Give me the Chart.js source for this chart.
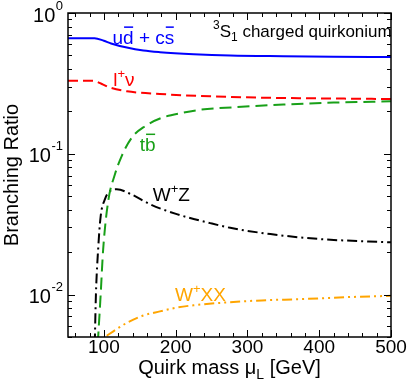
<!DOCTYPE html>
<html>
<head>
<meta charset="utf-8">
<script src="https://cdn.jsdelivr.net/npm/chart.js@4"></script>
<style>
  html, body { margin: 0; padding: 0; background: #fff; }
</style>
</head>
<body>
<canvas id="grafico" width="409" height="387"></canvas>
<script>
// masses in GeV, branching ratios
const massUd = [50, 87, 100, 110, 132, 155, 178, 225, 276, 350, 420, 500];
const brUd = [0.662, 0.662, 0.635, 0.608, 0.568, 0.541, 0.527, 0.510, 0.499, 0.493, 0.489, 0.486];

const massLnu = [50, 85, 99, 108, 132, 178, 248, 330, 420, 500];
const brLnu = [0.330, 0.330, 0.310, 0.296, 0.278, 0.266, 0.256, 0.250, 0.247, 0.245];

const massTb = [91.5, 95.5, 99, 106, 115.4, 124.8, 138.7, 157.3, 180.5, 208.4, 236.3, 280, 350, 420, 500];
const brTb = [0.0045, 0.010, 0.021, 0.046, 0.0715, 0.0964, 0.130, 0.157, 0.180, 0.195, 0.206, 0.214, 0.224, 0.231, 0.236];

const massWZ = [87.3, 88.9, 92, 95.5, 101.5, 108.6, 117.8, 140, 164, 201.5, 248, 276, 332, 401, 500];
const brWZ = [0.0045, 0.010, 0.021, 0.036, 0.0476, 0.0545, 0.056, 0.051, 0.0439, 0.0373, 0.0322, 0.0298, 0.0269, 0.0248, 0.0235];

const massWXX = [104, 118, 132, 155, 178, 202, 225, 271, 320, 378, 440, 500];
const brWXX = [0.0051, 0.0057, 0.0063, 0.0071, 0.0076, 0.0081, 0.0084, 0.0088, 0.0091, 0.0093, 0.0096, 0.0098];

const yTickValues = [1, 0.1, 0.01];
const yTickExponents = ['0', '-1', '-2'];

const FONT = '"Liberation Sans", Arial, Helvetica, sans-serif';

function puntos(xs, ys) {
    return xs.map((m, i) => ({ x: m, y: ys[i] }));
}

function serie(label, xs, ys, color, dash) {
    return {
        label: label,
        data: puntos(xs, ys),
        borderColor: color,
        borderWidth: 2,
        borderDash: dash,
        pointRadius: 0,
        fill: false,
        cubicInterpolationMode: 'monotone',
        clip: 0
    };
}

// draws a line of text made of parts: plain, superscript, subscript, overbar
function textoRico(ctx, x, y, parts, size, color) {
    ctx.fillStyle = color;
    ctx.strokeStyle = color;
    ctx.textBaseline = 'alphabetic';
    ctx.textAlign = 'left';
    let cx = x;
    parts.forEach(p => {
        let fs = size, dy = 0;
        if (p.sup) { fs = Math.round(size * 0.68); dy = -size * 0.42; }
        if (p.sub) { fs = Math.round(size * 0.68); dy = size * 0.25; }
        ctx.font = fs + 'px ' + FONT;
        ctx.fillText(p.t, cx, y + dy);
        const w = ctx.measureText(p.t).width;
        if (p.bar) {
            ctx.lineWidth = 1.5;
            ctx.beginPath();
            ctx.moveTo(cx + 1, y - size * 0.9);
            ctx.lineTo(cx + w - 0.5, y - size * 0.9);
            ctx.stroke();
        }
        cx += w;
    });
    return cx - x;
}

function anchoRico(ctx, parts, size) {
    let w = 0;
    parts.forEach(p => {
        const fs = (p.sup || p.sub) ? Math.round(size * 0.68) : size;
        ctx.font = fs + 'px ' + FONT;
        w += ctx.measureText(p.t).width;
    });
    return w;
}

// curve labels, anchored in data coordinates (mass, ratio) at the text baseline-left
const notas = [
    { at: [112, 0.60], color: '#0000ff', size: 19, parts: [{ t: 'u' }, { t: 'd', bar: true }, { t: ' + c' }, { t: 's', bar: true }] },
    { at: [113, 0.301], color: '#ff0000', size: 19, parts: [{ t: 'l' }, { t: '+', sup: true }, { t: 'ν' }] },
    { at: [150, 0.104], color: '#18a018', size: 19, parts: [{ t: 't' }, { t: 'b', bar: true }] },
    { at: [168, 0.0465], color: '#000000', size: 19, parts: [{ t: 'W' }, { t: '+', sup: true }, { t: 'Z' }] },
    { at: [199, 0.00908], color: '#ffa500', size: 19, parts: [{ t: 'W' }, { t: '+', sup: true }, { t: 'XX' }] },
    { at: [252, 0.68], color: '#000000', size: 17, parts: [{ t: '3', sup: true }, { t: 'S' }, { t: '1', sub: true }, { t: ' charged quirkonium' }] }
];

const marco = {
    id: 'marco',
    afterDraw(chart) {
        const { ctx, chartArea: a, scales: { x, y } } = chart;
        ctx.save();
        ctx.strokeStyle = '#000';
        ctx.lineWidth = 1.5;
        ctx.strokeRect(a.left, a.top, a.right - a.left, a.bottom - a.top);

        // inward tick marks on all four sides
        ctx.lineWidth = 1;
        ctx.beginPath();
        for (let v = 60; v <= x.max; v += 20) {
            const px = Math.round(x.getPixelForValue(v)) + 0.5;
            const len = v % 100 === 0 ? 7 : 4;
            ctx.moveTo(px, a.bottom); ctx.lineTo(px, a.bottom - len);
            ctx.moveTo(px, a.top); ctx.lineTo(px, a.top + len);
        }
        for (let e = Math.floor(Math.log10(y.min)); e <= 0; e++) {
            for (let k = 1; k <= 9; k++) {
                const v = k * Math.pow(10, e);
                if (v < y.min * 0.999 || v > y.max * 1.001) continue;
                const py = Math.round(y.getPixelForValue(v)) + 0.5;
                const len = k === 1 ? 7 : 4;
                ctx.moveTo(a.left, py); ctx.lineTo(a.left + len, py);
                ctx.moveTo(a.right, py); ctx.lineTo(a.right - len, py);
            }
        }
        ctx.stroke();

        // y tick labels 10^n
        ctx.fillStyle = '#000';
        yTickValues.forEach((v, i) => {
            const py = y.getPixelForValue(v);
            ctx.font = '13px ' + FONT;
            const ws = ctx.measureText(yTickExponents[i]).width;
            ctx.textAlign = 'right';
            ctx.textBaseline = 'middle';
            ctx.fillText(yTickExponents[i], 63, py - 7);
            ctx.font = '20px ' + FONT;
            ctx.fillText('10', 63 - ws - 0.5, py + 3);
        });

        // axis titles
        ctx.save();
        ctx.translate(18, (a.top + a.bottom) / 2);
        ctx.rotate(-Math.PI / 2);
        ctx.font = '20px ' + FONT;
        ctx.textAlign = 'center';
        ctx.textBaseline = 'alphabetic';
        ctx.fillText('Branching Ratio', 0, 0);
        ctx.restore();

        const tituloX = [{ t: 'Quirk mass μ' }, { t: 'L', sub: true }, { t: ' [GeV]' }];
        const wx = anchoRico(ctx, tituloX, 20);
        textoRico(ctx, (a.left + a.right) / 2 - wx / 2, 374, tituloX, 20, '#000');

        // curve labels
        notas.forEach(n => {
            textoRico(ctx, x.getPixelForValue(n.at[0]), y.getPixelForValue(n.at[1]), n.parts, n.size, n.color);
        });
        ctx.restore();
    }
};

const ctx = document.getElementById('grafico').getContext('2d');
new Chart(ctx, {
    type: 'line',
    data: {
        datasets: [
            serie('ud + cs', massUd, brUd, '#0000ff', []),
            serie('l+ nu', massLnu, brLnu, '#ff0000', [10, 5]),
            serie('tb', massTb, brTb, '#18a018', [12, 6]),
            serie('W+ Z', massWZ, brWZ, '#000000', [10, 4, 2, 4]),
            serie('W+ XX', massWXX, brWXX, '#ffa500', [10, 4, 2, 4, 2, 4])
        ]
    },
    options: {
        responsive: false,
        animation: false,
        devicePixelRatio: 1,
        layout: { padding: { top: 13, right: 18, left: 0, bottom: 0 } },
        plugins: {
            legend: { display: false },
            tooltip: { enabled: false }
        },
        scales: {
            x: {
                type: 'linear',
                min: 50,
                max: 500,
                grid: { display: false, drawTicks: false },
                border: { display: false },
                ticks: {
                    stepSize: 100,
                    autoSkip: false,
                    maxRotation: 0,
                    padding: -1,
                    color: '#000',
                    font: { family: FONT, size: 19 },
                    callback: v => (v % 100 === 0 ? String(v) : '')
                },
                afterFit: s => { s.height = 50; }
            },
            y: {
                type: 'logarithmic',
                min: 0.005,
                max: 1,
                grid: { display: false, drawTicks: false },
                border: { display: false },
                ticks: { display: false },
                afterFit: s => { s.width = 68; }
            }
        }
    },
    plugins: [marco]
});
</script>
</body>
</html>
